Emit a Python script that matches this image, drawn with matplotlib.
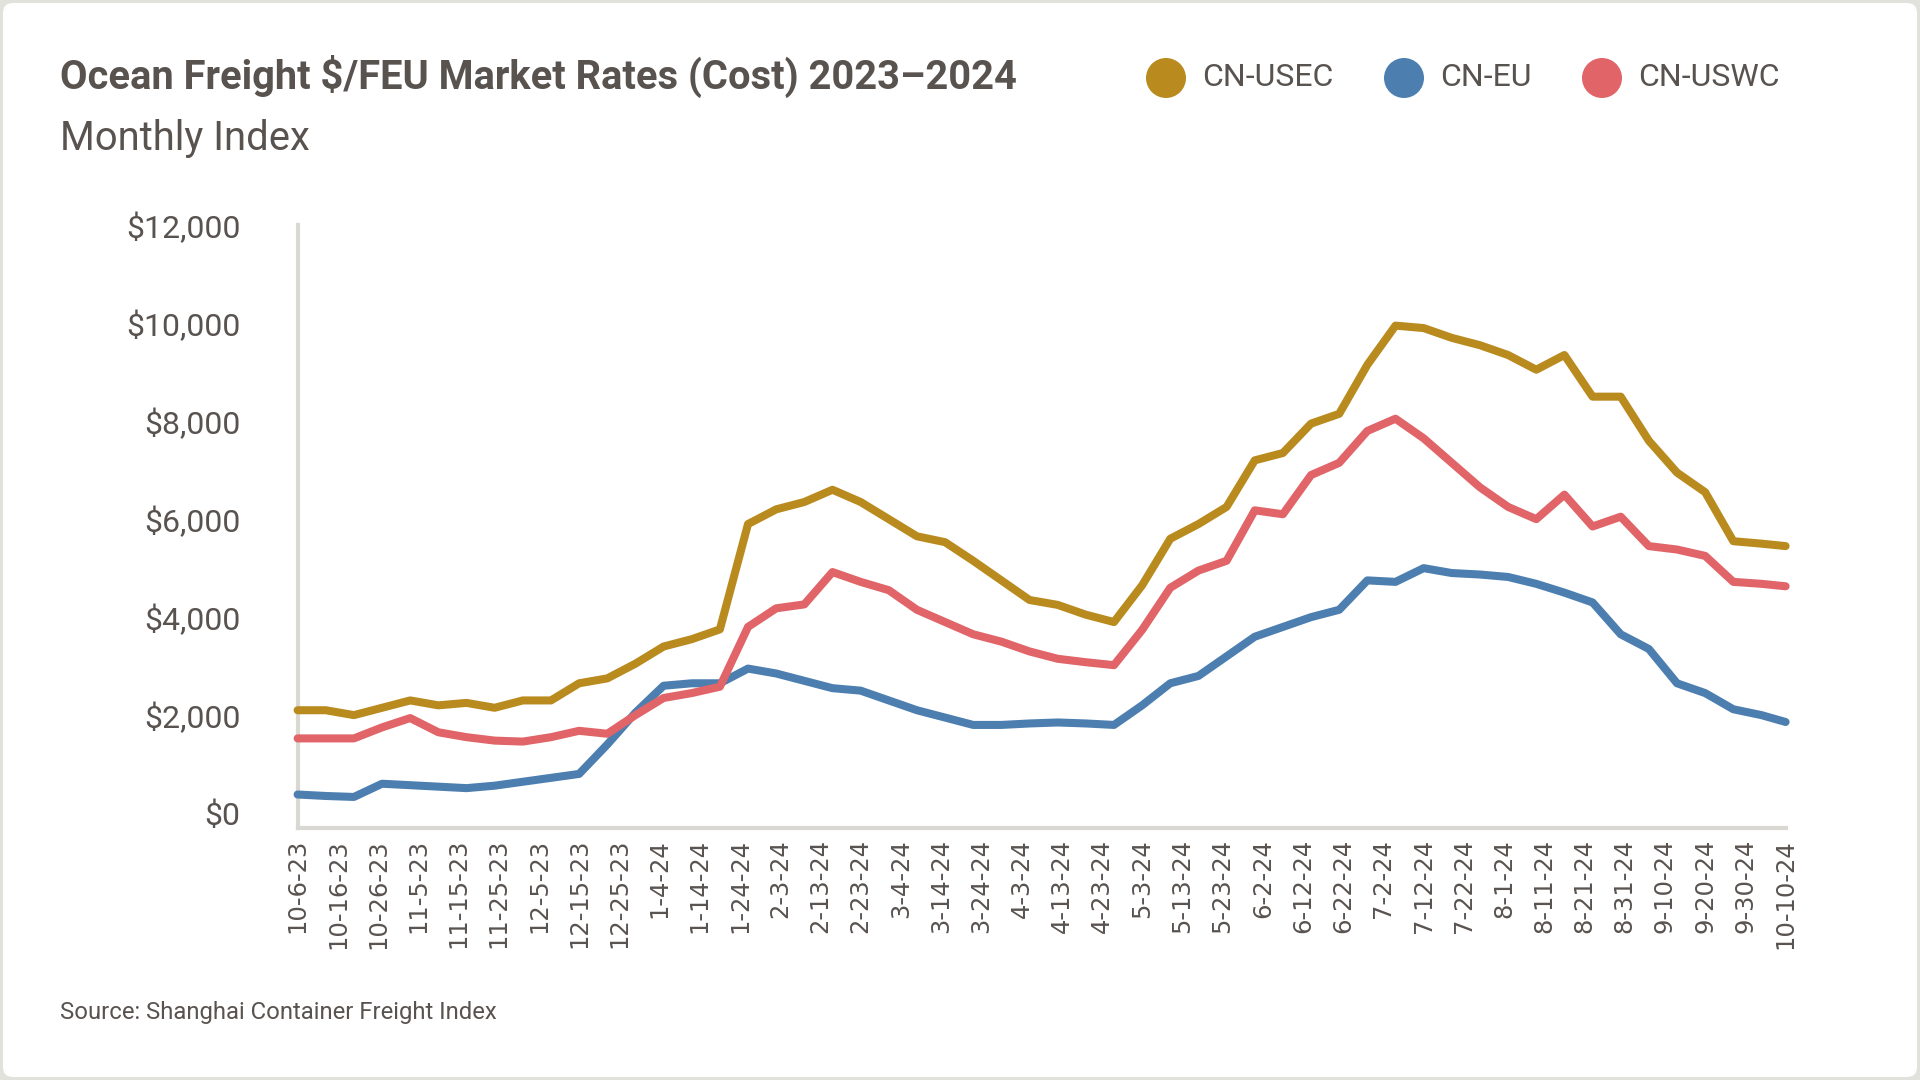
import matplotlib
matplotlib.use("Agg")
import matplotlib.pyplot as plt
import matplotlib.patches as patches
import pandas as pd

# Weekly SCFI readings ($/FEU)
dates = [
    "2023-10-06", "2023-10-13", "2023-10-20", "2023-10-27", "2023-11-03", "2023-11-10",
    "2023-11-17", "2023-11-24", "2023-12-01", "2023-12-08", "2023-12-15", "2023-12-22",
    "2023-12-29", "2024-01-05", "2024-01-12", "2024-01-19", "2024-01-26", "2024-02-02",
    "2024-02-09", "2024-02-16", "2024-02-23", "2024-03-01", "2024-03-08", "2024-03-15",
    "2024-03-22", "2024-03-29", "2024-04-05", "2024-04-12", "2024-04-19", "2024-04-26",
    "2024-05-03", "2024-05-10", "2024-05-17", "2024-05-24", "2024-05-31", "2024-06-07",
    "2024-06-14", "2024-06-21", "2024-06-28", "2024-07-05", "2024-07-12", "2024-07-19",
    "2024-07-26", "2024-08-02", "2024-08-09", "2024-08-16", "2024-08-23", "2024-08-30",
    "2024-09-06", "2024-09-13", "2024-09-20", "2024-09-27", "2024-10-04", "2024-10-10",
]

cn_usec = [
    2100, 2100, 2000, 2150, 2300, 2200, 2250, 2150, 2300, 2300, 2650, 2750,
    3050, 3400, 3550, 3750, 5900, 6200, 6350, 6600, 6350, 6000, 5650, 5530,
    5150, 4750, 4350, 4250, 4050, 3900, 4650, 5600, 5900, 6250, 7200, 7350,
    7950, 8150, 9150, 9950, 9900, 9700, 9550, 9350, 9050, 9350, 8500, 8500,
    7600, 6950, 6550, 5550, 5500, 5450,
]

cn_eu = [
    380, 350, 330, 600, 570, 540, 510, 560, 640, 720, 800, 1400,
    2050, 2600, 2650, 2650, 2950, 2850, 2700, 2550, 2500, 2300, 2100, 1950,
    1800, 1800, 1830, 1850, 1830, 1800, 2200, 2650, 2800, 3200, 3600, 3800,
    4000, 4150, 4750, 4720, 5000, 4900, 4870, 4820, 4680, 4500, 4300, 3650,
    3350, 2650, 2450, 2120, 2000, 1860,
]

cn_uswc = [
    1525, 1525, 1525, 1750, 1940, 1650, 1550, 1480, 1460, 1550, 1680, 1620,
    2000, 2350, 2450, 2580, 3800, 4180, 4260, 4920, 4720, 4550, 4150, 3900,
    3650, 3500, 3300, 3150, 3080, 3020, 3740, 4600, 4950, 5150, 6180, 6100,
    6900, 7150, 7800, 8050, 7650, 7150, 6650, 6250, 6000, 6500, 5850, 6050,
    5450, 5380, 5250, 4720, 4680, 4630,
]

series = [
    ("CN-USEC", cn_usec, "#B98B1E"),
    ("CN-EU", cn_eu, "#4C7FB0"),
    ("CN-USWC", cn_uswc, "#E06468"),
]

yticks = [0, 2000, 4000, 6000, 8000, 10000, 12000]

TEXT = "#595350"
GRID = "#dad8d2"

x = pd.to_datetime(dates)

fig = plt.figure(figsize=(19.2, 10.8), dpi=100, facecolor="#e2e2dc")

# white card
card = patches.FancyBboxPatch((3, 3), 1914, 1074, boxstyle="round,pad=0,rounding_size=10",
                              transform=None, facecolor="white", edgecolor="none", zorder=0)
fig.add_artist(card)

ax = fig.add_axes([0.155, 0.2335, 0.775, 0.558])
ax.set_facecolor("none")

for name, vals, col in series:
    ax.plot(x, vals, color=col, lw=5.8, solid_joinstyle="round", solid_capstyle="round",
            clip_on=False, zorder=3)

ax.set_ylim(-300, 12000)
ax.set_xlim(pd.Timestamp("2023-10-06"), pd.Timestamp("2024-10-10"))
ax.set_yticks(yticks)
ax.set_yticklabels([f"${v:,}" for v in yticks])

tick_dates = pd.date_range("2023-10-06", "2024-10-10", freq="10D")
ax.set_xticks(tick_dates)
ax.set_xticklabels([f"{d.month}-{d.day}-{d:%y}" for d in tick_dates], rotation=90,
                   family="DejaVu Sans", fontsize=17.5, color=TEXT, va="top", ha="center")

ax.tick_params(axis="y", length=0, pad=41, labelsize=23, labelcolor=TEXT)
ax.tick_params(axis="x", length=0, pad=8)
for lab in ax.get_yticklabels():
    lab.set_family("Roboto")

for s in ["top", "right"]:
    ax.spines[s].set_visible(False)
for s in ["left", "bottom"]:
    ax.spines[s].set_color(GRID)
    ax.spines[s].set_linewidth(3)

# title block
fig.text(60 / 1920, 1 - 76 / 1080, "Ocean Freight $/FEU Market Rates (Cost) 2023\u20132024",
         family="Roboto", weight="bold", fontsize=28.7, color=TEXT, va="center", ha="left")
fig.text(60 / 1920, 1 - 138 / 1080, "Monthly Index", family="Roboto", fontsize=28.8,
         color=TEXT, va="center", ha="left")

# legend
leg_x = [1166, 1404, 1602]
for (name, vals, col), cx in zip(series, leg_x):
    fig.add_artist(patches.Ellipse((cx / 1920, 1 - 78 / 1080), 40 / 1920, 40 / 1080,
                                   transform=fig.transFigure, facecolor=col, edgecolor="none"))
    fig.text((cx + 36) / 1920, 1 - 78 / 1080, name, family="Roboto", fontsize=23,
             color=TEXT, va="center", ha="left")

fig.text(60 / 1920, 1 - 1012 / 1080, "Source: Shanghai Container Freight Index",
         family="Roboto", fontsize=17.2, color=TEXT, va="center", ha="left")

fig.savefig("out.png", dpi=100, facecolor=fig.get_facecolor())
